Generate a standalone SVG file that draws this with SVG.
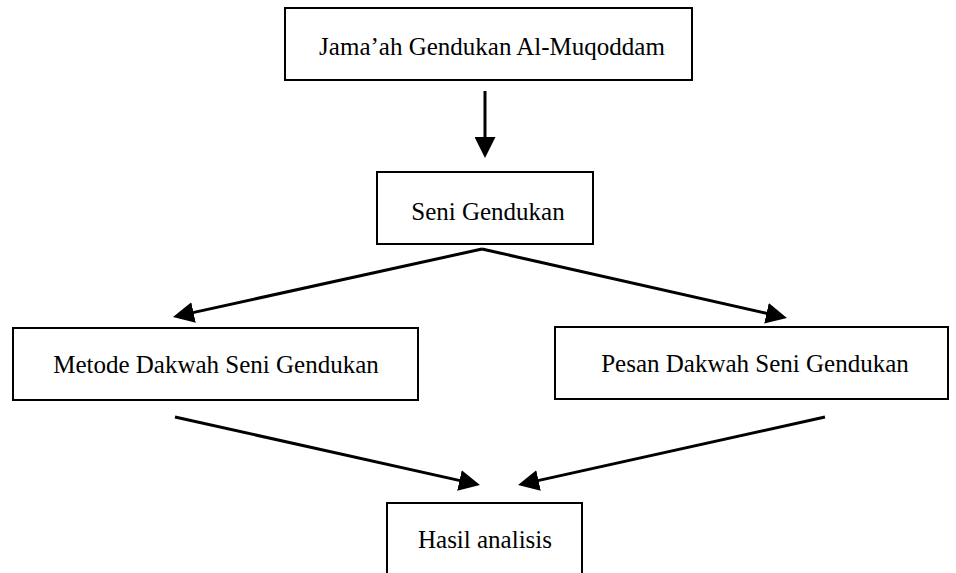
<svg xmlns="http://www.w3.org/2000/svg" width="956" height="573" viewBox="0 0 956 573">
  <style>
    .box { fill: #ffffff; stroke: #000000; stroke-width: 2; }
    .lbl { font-family: "Liberation Serif", "Times New Roman", serif; font-size: 25px; fill: #000000; text-anchor: middle; }
    .conn { stroke: #000000; stroke-width: 3; fill: none; marker-end: url(#head); }
  </style>
  <defs>
    <marker id="head" viewBox="0 0 7 7" refX="1" refY="3.5" markerWidth="7" markerHeight="7" markerUnits="strokeWidth" orient="auto">
      <path d="M0,0 L7,3.5 L0,7 z" fill="#000000"/>
    </marker>
  </defs>
  <rect width="956" height="573" fill="#ffffff"/>

  <g id="node-jamaah">
    <rect class="box" x="285" y="8" width="407" height="72"/>
    <text class="lbl" x="492" y="55">Jama’ah Gendukan Al-Muqoddam</text>
  </g>
  <g id="node-seni">
    <rect class="box" x="377" y="172" width="216" height="72"/>
    <text class="lbl" x="488" y="220">Seni Gendukan</text>
  </g>
  <g id="node-metode">
    <rect class="box" x="13" y="328" width="405" height="72"/>
    <text class="lbl" x="216" y="373">Metode Dakwah Seni Gendukan</text>
  </g>
  <g id="node-pesan">
    <rect class="box" x="555" y="327" width="393" height="72"/>
    <text class="lbl" x="755" y="372">Pesan Dakwah Seni Gendukan</text>
  </g>
  <g id="node-hasil">
    <rect class="box" x="387" y="503" width="195" height="80"/>
    <text class="lbl" x="485" y="548">Hasil analisis</text>
  </g>

  <g id="connectors">
    <line class="conn" x1="485" y1="91" x2="485" y2="140"/>
    <line class="conn" x1="482" y1="249" x2="190.6" y2="313.1"/>
    <line class="conn" x1="482" y1="249" x2="769.4" y2="314"/>
    <line class="conn" x1="175" y1="417" x2="462.4" y2="481.1"/>
    <line class="conn" x1="825" y1="417" x2="535.6" y2="481.1"/>
  </g>
</svg>
